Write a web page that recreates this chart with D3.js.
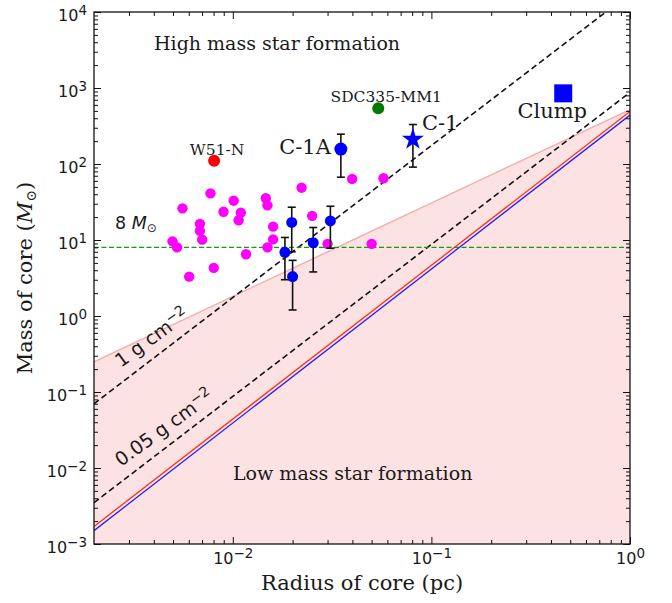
<!DOCTYPE html>
<html>
<head>
<meta charset="utf-8">
<script src="https://cdn.jsdelivr.net/npm/d3@7"></script>
<style>
  body { margin: 0; background: #fff; }
  text { fill: #1a1a1a; }
  .serif { font-family: "DejaVu Serif", serif; }
  .sans { font-family: "DejaVu Sans", sans-serif; }
</style>
</head>
<body>
<svg id="chart" width="672" height="603"></svg>
<script>
// magenta cores from literature (radius pc, mass Msun)
var litR = [0.00497, 0.00524, 0.00558, 0.00603, 0.00683, 0.00683, 0.00701, 0.00772, 0.00802,
            0.00898, 0.0101, 0.01097, 0.0107, 0.01166, 0.01466, 0.01495, 0.01596, 0.01596,
            0.01495, 0.0222, 0.0251, 0.0300, 0.0500, 0.0399, 0.0574];
var litM = [9.6, 8.0, 26.1, 3.3, 16.3, 13.2, 10.1, 41.1, 4.3,
            23.5, 32.9, 22.9, 18.2, 6.5, 35.4, 28.6, 15.0, 10.2,
            8.0, 48.8, 20.8, 8.9, 8.9, 63.6, 65.0];

// blue cores with error bars
var coreR = [0.0198, 0.0200, 0.0183, 0.0254, 0.0310];
var coreM = [17.0, 3.3, 6.9, 9.2, 17.8];
var coreErr = [10.0, 2.1, 3.9, 5.4, 10.0];

// labelled sources
var c1aR = 0.035, c1aM = 157, c1aErr = 90;
var c1R = 0.0807, c1M = 211, c1Err = 120;
var w51R = 0.00805, w51M = 110;
var sdcR = 0.054, sdcM = 541;
var clumpR = 0.461, clumpM = 850;

// reference relations, end points [radius, mass]
var line1g = [[0.002, 0.07], [1, 17500]];
var line005g = [[0.002, 0.0035], [1, 875]];
var redLine = [[0.002, 0.0017], [1, 490]];
var blueLine = [[0.002, 0.0015], [1, 440]];
var kpLine = [[0.002, 0.25], [1, 520]];
var massLimit = 8;

var xTicks = [0.01, 0.1, 1];
var yTicks = [1e-3, 1e-2, 1e-1, 1, 10, 100, 1000, 10000];
var xExp = ['\u22122', '\u22121', '0'];
var yExp = ['\u22123', '\u22122', '\u22121', '0', '1', '2', '3', '4'];

var padL = 94, padR = 630, padT = 12, padB = 544;

var svg = d3.select('#chart');

var x = d3.scaleLog().domain([0.002, 1]).range([padL, padR]);
var y = d3.scaleLog().domain([1e-3, 1e4]).range([padB, padT]);

svg.append('clipPath').attr('id', 'clip')
    .append('rect')
    .attr('x', padL).attr('y', padT)
    .attr('width', padR - padL).attr('height', padB - padT);

var plot = svg.append('g').attr('clip-path', 'url(#clip)');

var line = d3.line().x(d => x(d[0])).y(d => y(d[1]));

// shaded low-mass region
var area = d3.area()
    .x(d => x(d[0]))
    .y0(y(1e-3))
    .y1(d => y(d[1]));
plot.append('path')
    .datum(kpLine)
    .attr('d', area)
    .attr('fill', '#fde2e3');
plot.append('path')
    .datum(kpLine)
    .attr('d', line)
    .attr('fill', 'none')
    .attr('stroke', '#f0b0b2')
    .attr('stroke-width', 1.5);

plot.append('path').datum(redLine).attr('d', line)
    .attr('fill', 'none').attr('stroke', '#ff3010').attr('stroke-width', 1.3);
plot.append('path').datum(blueLine).attr('d', line)
    .attr('fill', 'none').attr('stroke', '#2020ff').attr('stroke-width', 1.3);

[line1g, line005g].forEach(function(l) {
    plot.append('path').datum(l).attr('d', line)
        .attr('fill', 'none').attr('stroke', '#111')
        .attr('stroke-width', 1.6)
        .attr('stroke-dasharray', '6,3.5');
});

plot.append('line')
    .attr('x1', padL).attr('x2', padR)
    .attr('y1', y(massLimit)).attr('y2', y(massLimit))
    .attr('stroke', '#129a12').attr('stroke-width', 1.2)
    .attr('stroke-dasharray', '5,2.5');

// literature cores
plot.selectAll('.lit')
    .data(litR.map((r, i) => [r, litM[i]]))
    .enter()
    .append('circle')
    .attr('cx', d => x(d[0]))
    .attr('cy', d => y(d[1]))
    .attr('r', 5.2)
    .attr('fill', '#ff00ff');

// error bars
function errBar(r, m, e) {
    var g = plot.append('g').attr('stroke', '#111').attr('stroke-width', 1.6);
    g.append('line').attr('x1', x(r)).attr('x2', x(r))
        .attr('y1', y(m + e)).attr('y2', y(m - e));
    [m + e, m - e].forEach(function(v) {
        g.append('line').attr('x1', x(r) - 4).attr('x2', x(r) + 4)
            .attr('y1', y(v)).attr('y2', y(v));
    });
}
coreR.forEach((r, i) => errBar(r, coreM[i], coreErr[i]));
errBar(c1aR, c1aM, c1aErr);
errBar(c1R, c1M, c1Err);

plot.selectAll('.core')
    .data(coreR.map((r, i) => [r, coreM[i]]))
    .enter()
    .append('circle')
    .attr('cx', d => x(d[0]))
    .attr('cy', d => y(d[1]))
    .attr('r', 5.5)
    .attr('fill', '#0000ff');

plot.append('circle').attr('cx', x(c1aR)).attr('cy', y(c1aM)).attr('r', 6.5).attr('fill', '#0000ff');
plot.append('circle').attr('cx', x(w51R)).attr('cy', y(w51M)).attr('r', 6).attr('fill', '#ff0000');
plot.append('circle').attr('cx', x(sdcR)).attr('cy', y(sdcM)).attr('r', 6).attr('fill', '#007a00');

plot.append('path')
    .attr('d', d3.symbol().type(d3.symbolStar).size(150)())
    .attr('transform', 'translate(' + x(c1R) + ',' + y(c1M) + ')')
    .attr('fill', '#0000ff');

plot.append('path')
    .attr('d', d3.symbol().type(d3.symbolSquare).size(324)())
    .attr('transform', 'translate(' + x(clumpR) + ',' + y(clumpM) + ')')
    .attr('fill', '#0000ff');

// axes
function supLabels(sel, exps) {
    sel.attr('font-family', '"DejaVu Sans", sans-serif').attr('font-size', 16);
    sel.selectAll('.tick text').each(function(d, i) {
        var t = d3.select(this).text('').attr('fill', '#1a1a1a');
        t.append('tspan').text('10');
        t.append('tspan').attr('dy', '-0.45em').attr('font-size', '13.5px').text(exps[i]);
    });
}

var minorX = x.ticks().filter(v => xTicks.indexOf(v) < 0 && v > 0.002);
var minorY = y.ticks().filter(v => yTicks.indexOf(v) < 0);

var gx = svg.append('g').attr('transform', 'translate(0,' + padB + ')')
    .call(d3.axisBottom(x).tickValues(xTicks).tickSize(-7).tickPadding(9).tickSizeOuter(0));
supLabels(gx, xExp);
svg.append('g').attr('transform', 'translate(0,' + padB + ')')
    .call(d3.axisBottom(x).tickValues(minorX).tickSize(-4).tickFormat('').tickSizeOuter(0));
svg.append('g').attr('transform', 'translate(0,' + padT + ')')
    .call(d3.axisTop(x).tickValues(xTicks).tickSize(-7).tickFormat('').tickSizeOuter(0));
svg.append('g').attr('transform', 'translate(0,' + padT + ')')
    .call(d3.axisTop(x).tickValues(minorX).tickSize(-4).tickFormat('').tickSizeOuter(0));

var gy = svg.append('g').attr('transform', 'translate(' + padL + ',0)')
    .call(d3.axisLeft(y).tickValues(yTicks).tickSize(-7).tickPadding(7).tickSizeOuter(0));
supLabels(gy, yExp);
gy.selectAll('.tick text').attr('dy', '0.55em');
svg.append('g').attr('transform', 'translate(' + padL + ',0)')
    .call(d3.axisLeft(y).tickValues(minorY).tickSize(-4).tickFormat('').tickSizeOuter(0));
svg.append('g').attr('transform', 'translate(' + padR + ',0)')
    .call(d3.axisRight(y).tickValues(yTicks).tickSize(-7).tickFormat('').tickSizeOuter(0));
svg.append('g').attr('transform', 'translate(' + padR + ',0)')
    .call(d3.axisRight(y).tickValues(minorY).tickSize(-4).tickFormat('').tickSizeOuter(0));

svg.selectAll('.domain').remove();
svg.selectAll('.tick line').attr('stroke', '#111');

svg.append('rect')
    .attr('x', padL).attr('y', padT)
    .attr('width', padR - padL).attr('height', padB - padT)
    .attr('fill', 'none').attr('stroke', '#111').attr('stroke-width', 1.3);

// annotations
function label(txt, px, py, size, cls) {
    return svg.append('text').attr('class', cls)
        .attr('x', px).attr('y', py)
        .attr('font-size', size + 'px')
        .text(txt);
}
label('High mass star formation', 154, 50, 19, 'serif');
label('Low mass star formation', 233, 480, 19, 'serif');
label('W51-N', x(w51R) + 3, y(w51M) - 6, 15.5, 'serif').attr('text-anchor', 'middle');
label('SDC335-MM1', x(sdcR) + 8, y(sdcM) - 6, 15.5, 'serif').attr('text-anchor', 'middle');
label('C-1A', x(c1aR) - 10, y(c1aM) + 5, 21, 'serif').attr('text-anchor', 'end');
label('C-1', x(c1R) + 9, y(c1M) - 9, 21, 'serif');
label('Clump', x(clumpR) - 11, y(clumpM) + 25, 21, 'serif').attr('text-anchor', 'middle');

var eight = svg.append('text').attr('class', 'sans')
    .attr('x', 115).attr('y', 229).attr('font-size', '17.5px');
eight.append('tspan').text('8 ');
eight.append('tspan').attr('font-style', 'italic').text('M');
eight.append('tspan').attr('font-size', '12px').attr('dy', '3').text('\u2299');

function densLabel(num, px, py) {
    var t = svg.append('text').attr('class', 'sans')
        .attr('font-size', '19px')
        .attr('transform', 'translate(' + px + ',' + py + ') rotate(-36)');
    t.append('tspan').text(num + ' g cm');
    t.append('tspan').attr('dy', '-0.5em').attr('font-size', '14px').text('\u22122');
}
densLabel('1', 121, 368);
densLabel('0.05', 121, 467);

svg.append('text').attr('class', 'serif')
    .attr('x', (padL + padR) / 2).attr('y', 590)
    .attr('text-anchor', 'middle').attr('font-size', '21px')
    .text('Radius of core (pc)');

var yl = svg.append('text').attr('class', 'serif')
    .attr('transform', 'translate(32,' + ((padT + padB) / 2) + ') rotate(-90)')
    .attr('text-anchor', 'middle').attr('font-size', '21px');
yl.append('tspan').text('Mass of core (');
yl.append('tspan').attr('font-style', 'italic').text('M');
yl.append('tspan').attr('font-size', '14px').attr('dy', '4').text('\u2299');
yl.append('tspan').attr('dy', '-4').text(')');
</script>
</body>
</html>
